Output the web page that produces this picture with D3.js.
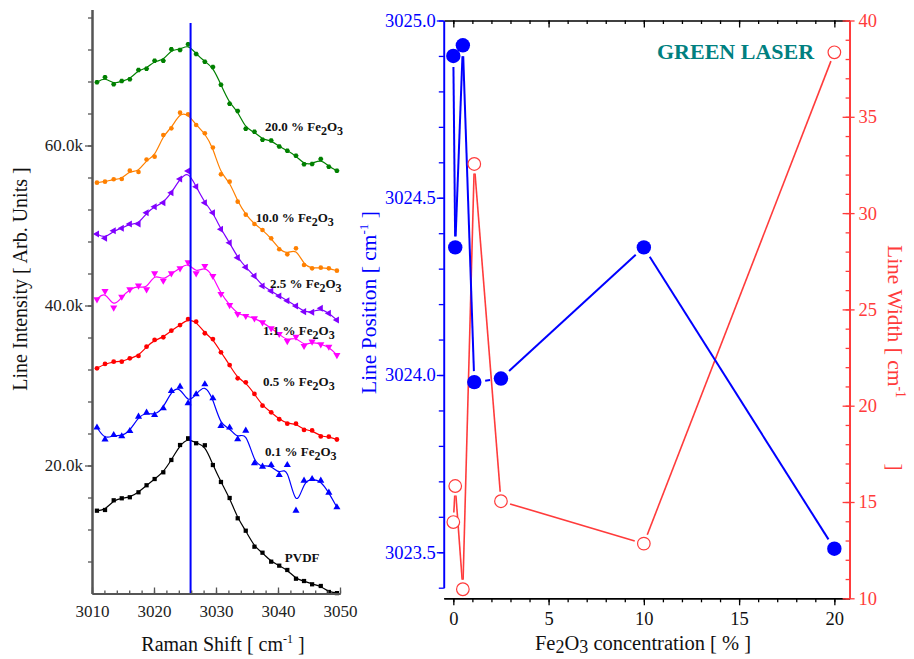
<!DOCTYPE html>
<html>
<head>
<meta charset="utf-8">
<script src="https://cdnjs.cloudflare.com/ajax/libs/d3/7.8.5/d3.min.js"></script>
<style>
body { margin: 0; background: #fff; }
text { font-family: "Liberation Serif", "Times New Roman", serif; }
</style>
</head>
<body>
<div id="chart"></div>
<script>
const width = 914;
const height = 659;

// left panel: raman spectra (intensity in thousands, already offset)
const ramanShift = [3010.8, 3012.1, 3013.5, 3014.8, 3016.1, 3017.5, 3018.8, 3020.1, 3021.5, 3022.8,
	3024.2, 3025.5, 3026.8, 3028.2, 3029.5, 3030.8, 3032.2, 3033.5, 3034.8, 3036.2,
	3037.5, 3038.9, 3040.2, 3041.5, 3042.9, 3044.2, 3045.5, 3046.9, 3048.2, 3049.5];
const pvdf = [14.35, 14.44, 15.65, 15.90, 16.03, 16.65, 17.53, 18.31, 19.15, 20.69,
	22.56, 23.40, 22.78, 22.53, 20.06, 17.94, 15.94, 13.40, 11.85, 9.85,
	9.10, 7.98, 7.48, 6.94, 5.85, 5.56, 5.15, 4.94, 4.19, 4.05];
const fe01 = [24.75, 23.25, 23.81, 23.65, 24.31, 26.10, 26.60, 26.31, 27.15, 29.31,
	29.85, 27.78, 28.90, 30.15, 28.40, 24.94, 24.75, 23.28, 24.35, 20.28,
	19.85, 20.06, 18.81, 20.06, 14.35, 18.10, 18.31, 18.10, 16.60, 14.78];
const fe05 = [32.15, 32.69, 32.98, 32.98, 33.40, 33.69, 34.85, 35.69, 36.03, 36.85,
	37.56, 38.31, 37.98, 36.53, 35.81, 34.15, 32.56, 30.90, 30.40, 28.94,
	27.48, 26.65, 25.78, 25.23, 25.23, 24.44, 24.38, 23.63, 23.60, 23.25];
const fe11 = [40.78, 41.81, 39.73, 41.10, 42.03, 42.48, 42.03, 44.03, 43.10, 44.03,
	44.65, 45.40, 44.03, 44.94, 43.69, 41.44, 40.06, 38.94, 38.69, 38.40,
	37.90, 37.15, 36.44, 35.56, 36.10, 34.94, 35.48, 35.15, 34.85, 33.81];
const fe25 = [48.94, 48.40, 49.35, 49.65, 50.19, 50.19, 51.60, 52.35, 52.85, 54.10,
	55.81, 56.81, 54.85, 52.85, 51.60, 49.53, 47.85, 45.98, 44.78, 43.69,
	42.44, 41.81, 41.19, 40.60, 39.94, 39.23, 39.15, 39.65, 39.03, 38.19];
const fe100 = [55.35, 55.48, 55.78, 55.81, 56.85, 56.69, 58.25, 58.60, 61.31, 62.15,
	64.10, 63.90, 62.56, 61.53, 59.75, 56.40, 55.48, 52.98, 51.35, 50.19,
	49.44, 48.40, 47.03, 46.40, 47.15, 45.06, 44.65, 44.73, 44.65, 44.35];
const fe200 = [67.90, 68.53, 67.65, 68.06, 68.28, 69.44, 69.60, 70.60, 70.60, 72.03,
	71.94, 72.65, 71.44, 70.48, 69.81, 67.60, 65.23, 64.31, 62.10, 61.73,
	60.73, 60.63, 59.88, 59.35, 58.71, 57.65, 57.69, 58.31, 57.35, 56.85];
const spectraLabels = ["PVDF", "0.1", "0.5", "1.1", "2.5", "10.0", "20.0"];
const markLine = 3025.9;
const yTickValues = [20, 40, 60];
const yTickLabels = ["20.0k", "40.0k", "60.0k"];
const xTickValues = [3010, 3020, 3030, 3040, 3050];

// right panel: line position / width vs Fe2O3 content
const concentration = [0, 0.1, 0.5, 1.1, 2.5, 10, 20];
const linePosition = [3024.90, 3024.36, 3024.93, 3023.98, 3023.99, 3024.36, 3023.51];
const lineWidth = [13.96, 15.83, 10.47, 32.55, 15.04, 12.84, 38.35];
const posTicks = [3023.5, 3024.0, 3024.5, 3025.0];
const widthTicks = [10, 15, 20, 25, 30, 35, 40];
const concTicks = [0, 5, 10, 15, 20];

const svg = d3
	.select("#chart")
	.append("svg")
	.attr("width", width)
	.attr("height", height);

// ---------------- left panel ----------------
const xL = d3.scaleLinear().domain([3010, 3050]).range([92, 340]);
const yL = d3.scaleLinear().domain([4, 77]).range([593.5, 9.5]);

// small hexagon marker
const hexagon = {
	draw(ctx, size) {
		const r = Math.sqrt(size / 2.6);
		for (let k = 0; k < 6; k++) {
			const a = Math.PI / 3 * k;
			if (k == 0) ctx.moveTo(r * Math.cos(a), r * Math.sin(a));
			else ctx.lineTo(r * Math.cos(a), r * Math.sin(a));
		}
		ctx.closePath();
	}
};

const tri = d3.symbol().type(d3.symbolTriangle).size(22);
const spectra = [
	{ values: pvdf, color: "#000000", sym: d3.symbol().type(d3.symbolSquare).size(18), rot: 0, lx: 3041.1, ly: 7.98 },
	{ values: fe01, color: "#0000ff", sym: tri, rot: 0, lx: 3037.9, ly: 21.19 },
	{ values: fe05, color: "#ff0000", sym: d3.symbol().type(d3.symbolCircle).size(18), rot: 0, lx: 3037.6, ly: 29.94 },
	{ values: fe11, color: "#ff00ff", sym: tri, rot: 180, lx: 3037.6, ly: 36.31 },
	{ values: fe25, color: "#8000ff", sym: tri, rot: -90, lx: 3038.7, ly: 42.19 },
	{ values: fe100, color: "#ff8000", sym: d3.symbol().type(d3.symbolCircle).size(17), rot: 0, lx: 3036.4, ly: 50.48 },
	{ values: fe200, color: "#008000", sym: d3.symbol().type(hexagon).size(18), rot: 0, lx: 3037.9, ly: 61.85 }
];

const specLine = d3
	.line()
	.x((d, i) => xL(ramanShift[i]))
	.y(d => yL(d))
	.curve(d3.curveBasis);

spectra.forEach(s => {
	svg.append("path")
		.attr("d", specLine(s.values))
		.attr("fill", "none")
		.attr("stroke", s.color)
		.attr("stroke-width", 1.2);

	svg.append("g")
		.selectAll("path")
		.data(s.values)
		.enter()
		.append("path")
		.attr("d", s.sym)
		.attr("fill", s.color)
		.attr("transform", (d, i) => "translate(" + xL(ramanShift[i]) + "," + yL(d) + ") rotate(" + s.rot + ")");
});

// vertical marker line
svg.append("line")
	.attr("x1", xL(markLine))
	.attr("x2", xL(markLine))
	.attr("y1", yL(75.3))
	.attr("y2", yL(4))
	.attr("stroke", "#0000ff")
	.attr("stroke-width", 2);

// spectra labels
spectra.forEach((s, i) => {
	const t = svg.append("text")
		.attr("x", xL(s.lx))
		.attr("y", yL(s.ly))
		.style("font-size", "13px")
		.style("font-weight", "bold")
		.attr("fill", "#111");
	if (i == 0) {
		t.text(spectraLabels[i]);
		return;
	}
	t.append("tspan").text(spectraLabels[i] + " % Fe");
	t.append("tspan").attr("dy", 4).style("font-size", "12px").text("2");
	t.append("tspan").attr("dy", -4).text("O");
	t.append("tspan").attr("dy", 4).style("font-size", "12px").text("3");
});

// left axes
const axisGray = "#555";
const gyMinor = svg.append("g")
	.attr("transform", "translate(92,0)")
	.call(d3.axisLeft(yL).tickValues(d3.range(8, 77, 4)).tickSize(4).tickSizeOuter(0).tickFormat(""));
const gy = svg.append("g")
	.attr("transform", "translate(92,0)")
	.call(d3.axisLeft(yL).tickValues(yTickValues).tickSize(7).tickSizeOuter(0).tickPadding(2)
		.tickFormat((d, i) => yTickLabels[i]));

const gxMinor = svg.append("g")
	.attr("transform", "translate(0,593.5)")
	.call(d3.axisBottom(xL).tickValues(d3.range(3010, 3051, 2)).tickSize(-3).tickSizeOuter(0).tickFormat(""));
const gx = svg.append("g")
	.attr("transform", "translate(0,593.5)")
	.call(d3.axisBottom(xL).tickValues(xTickValues).tickSize(-6).tickSizeOuter(0).tickPadding(11)
		.tickFormat(d3.format("d")));

[gyMinor, gy, gxMinor, gx].forEach(g => {
	g.select(".domain").attr("stroke", axisGray).attr("stroke-width", 2);
	g.selectAll(".tick line").attr("stroke", axisGray).attr("stroke-width", 1.3);
	g.selectAll("text")
		.style("font-family", "Liberation Serif")
		.style("font-size", "17px")
		.attr("fill", "#222");
});

svg.append("text")
	.attr("transform", "translate(26.5,279) rotate(-90)")
	.attr("text-anchor", "middle")
	.style("font-size", "20px")
	.attr("fill", "#111")
	.text("Line Intensity [ Arb. Units ]");

const xt = svg.append("text")
	.attr("x", 223)
	.attr("y", 651)
	.attr("text-anchor", "middle")
	.style("font-size", "20px")
	.attr("fill", "#111");
xt.append("tspan").text("Raman Shift [ cm");
xt.append("tspan").attr("dy", -8).style("font-size", "12px").text("-1");
xt.append("tspan").attr("dy", 8).text(" ]");

// ---------------- right panel ----------------
const xR = d3.scaleLinear().domain([-0.5, 20.8]).range([443.8, 849.6]);
const yPos = d3.scaleLinear().domain([3023.4, 3025.0]).range([587.7, 20.5]);
const yWid = d3.scaleLinear().domain([10, 40]).range([598.3, 20.5]);

const blue = "#0000ff";
const red = "#ff3b3b";

// segments with a small gap around the markers
function gappedLine(xs, ys, gap) {
	const pts = xs.map((x, i) => [xR(x), ys[i]]);
	const segs = [];
	for (let i = 0; i < pts.length - 1; i++) {
		const [x0, y0] = pts[i];
		const [x1, y1] = pts[i + 1];
		const len = Math.hypot(x1 - x0, y1 - y0);
		if (len <= 2 * gap) continue;
		const ux = (x1 - x0) / len, uy = (y1 - y0) / len;
		segs.push([[x0 + ux * gap, y0 + uy * gap], [x1 - ux * gap, y1 - uy * gap]]);
	}
	return segs;
}

const segLine = d3.line();

svg.append("g")
	.selectAll("path")
	.data(gappedLine(concentration, lineWidth.map(d => yWid(d)), 9.5))
	.enter()
	.append("path")
	.attr("d", d => segLine(d))
	.attr("stroke", red)
	.attr("stroke-width", 1.6)
	.attr("fill", "none");

svg.append("g")
	.selectAll("path")
	.data(gappedLine(concentration, linePosition.map(d => yPos(d)), 11))
	.enter()
	.append("path")
	.attr("d", d => segLine(d))
	.attr("stroke", blue)
	.attr("stroke-width", 2)
	.attr("fill", "none");

svg.append("g")
	.selectAll("circle")
	.data(lineWidth)
	.enter()
	.append("circle")
	.attr("cx", (d, i) => xR(concentration[i]))
	.attr("cy", d => yWid(d))
	.attr("r", 6.3)
	.attr("fill", "#fff")
	.attr("stroke", red)
	.attr("stroke-width", 1.2);

svg.append("g")
	.selectAll("circle")
	.data(linePosition)
	.enter()
	.append("circle")
	.attr("cx", (d, i) => xR(concentration[i]))
	.attr("cy", d => yPos(d))
	.attr("r", 7.2)
	.attr("fill", blue);

// right axes
const gTop = svg.append("g")
	.attr("transform", "translate(0,20.5)")
	.call(d3.axisBottom(xR).tickValues(d3.range(0, 21, 1)).tickSize(3.5).tickSizeOuter(0).tickFormat(""));
gTop.append("g").call(d3.axisBottom(xR).tickValues(concTicks).tickSize(7).tickSizeOuter(0).tickFormat(""))
	.select(".domain").remove();

const gBotMinor = svg.append("g")
	.attr("transform", "translate(0,598.3)")
	.call(d3.axisBottom(xR).tickValues(d3.range(0, 21, 1)).tickSize(4).tickSizeOuter(0).tickFormat(""));
const gBot = svg.append("g")
	.attr("transform", "translate(0,598.3)")
	.call(d3.axisBottom(xR).tickValues(concTicks).tickSize(7).tickSizeOuter(0).tickPadding(7)
		.tickFormat(d3.format("d")));

[gTop, gBotMinor, gBot].forEach(g => {
	g.selectAll(".domain").attr("stroke", "#000").attr("stroke-width", 1.6);
	g.selectAll(".tick line").attr("stroke", "#000").attr("stroke-width", 1.3);
	g.selectAll("text").style("font-family", "Liberation Serif").style("font-size", "18.5px").attr("fill", "#111");
});

const posMinor = d3.range(0, 17).map(i => 3023.4 + i * 0.1);
const gPosMinor = svg.append("g")
	.attr("transform", "translate(443.8,0)")
	.call(d3.axisLeft(yPos).tickValues(posMinor).tickSize(5).tickSizeOuter(0).tickFormat(""));
const gPos = svg.append("g")
	.attr("transform", "translate(443.8,0)")
	.call(d3.axisLeft(yPos).tickValues(posTicks).tickSize(7).tickSizeOuter(0).tickPadding(1)
		.tickFormat(d3.format(".1f")));
[gPosMinor, gPos].forEach(g => {
	g.select(".domain").attr("stroke", blue).attr("stroke-width", 1.6);
	g.selectAll(".tick line").attr("stroke", blue).attr("stroke-width", 1.3);
	g.selectAll("text").style("font-family", "Liberation Serif").style("font-size", "18.5px").attr("fill", blue);
});

const gWidMinor = svg.append("g")
	.attr("transform", "translate(849.6,0)")
	.call(d3.axisLeft(yWid).tickValues(d3.range(10, 41, 1)).tickSize(4).tickSizeOuter(0).tickFormat(""));
const gWidIn = svg.append("g")
	.attr("transform", "translate(849.6,0)")
	.call(d3.axisLeft(yWid).tickValues(widthTicks).tickSize(7).tickSizeOuter(0).tickFormat(""));
const gWid = svg.append("g")
	.attr("transform", "translate(849.6,0)")
	.call(d3.axisRight(yWid).tickValues(widthTicks).tickSize(5).tickSizeOuter(0).tickPadding(4)
		.tickFormat(d3.format("d")));
[gWidMinor, gWidIn, gWid].forEach(g => {
	g.select(".domain").attr("stroke", red).attr("stroke-width", 1.6);
	g.selectAll(".tick line").attr("stroke", red).attr("stroke-width", 1.3);
	g.selectAll("text").style("font-family", "Liberation Serif").style("font-size", "18.5px").attr("fill", red);
});

const pt = svg.append("text")
	.attr("transform", "translate(376,394) rotate(-90)")
	.attr("text-anchor", "start")
	.style("font-size", "21.5px")
	.attr("fill", blue);
pt.append("tspan").text("Line Position [ cm");
pt.append("tspan").attr("dy", -8).style("font-size", "13px").text("-1");
pt.append("tspan").attr("dy", 8).text(" ]");

const wt = svg.append("text")
	.attr("transform", "translate(888,245) rotate(90)")
	.attr("text-anchor", "start")
	.style("font-size", "21.5px")
	.attr("fill", red);
wt.append("tspan").text("Line Width [ cm");
wt.append("tspan").attr("dy", -8).style("font-size", "14px").text("-1");
wt.append("tspan").attr("dy", 8).attr("dx", 60).text(" ]");

const ct = svg.append("text")
	.attr("x", 643)
	.attr("y", 650)
	.attr("text-anchor", "middle")
	.style("font-size", "20.5px")
	.attr("fill", "#111");
ct.append("tspan").text("Fe");
ct.append("tspan").attr("dy", 3).style("font-size", "18px").text("2");
ct.append("tspan").attr("dy", -3).text("O");
ct.append("tspan").attr("dy", 3).style("font-size", "18px").text("3");
ct.append("tspan").attr("dy", -3).text(" concentration [ % ]");

svg.append("text")
	.attr("x", 657)
	.attr("y", 59)
	.style("font-size", "22px")
	.style("font-weight", "bold")
	.attr("fill", "#008080")
	.text("GREEN LASER");
</script>
</body>
</html>
